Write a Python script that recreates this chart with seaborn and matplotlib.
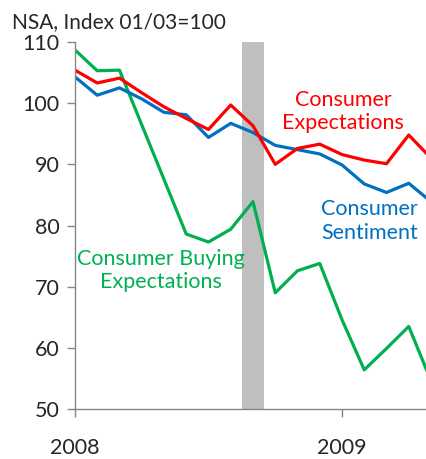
import pandas as pd
import seaborn as sns
import matplotlib.pyplot as plt

# Data (bulan sejak Jan 2008)
months = list(range(17))
expectations = [105.4, 103.3, 104.1, 101.7, 99.4, 97.5, 95.7, 99.7, 96.3, 90.0,
                92.6, 93.3, 91.6, 90.7, 90.1, 94.8, 91.0]
sentiment = [104.3, 101.3, 102.5, 100.7, 98.5, 98.1, 94.4, 96.7, 95.2, 93.1,
             92.4, 91.7, 89.9, 86.8, 85.4, 86.9, 83.9]
buying_months = [0, 1, 2, 5, 6, 7, 8, 9, 10, 11, 12, 13, 14, 15, 16]
buying = [108.7, 105.3, 105.4, 78.6, 77.3, 79.4, 83.9, 69.0, 72.6, 73.8,
          64.6, 56.4, 59.9, 63.5, 54.6]
year_ticks = [0, 12]
year_labels = ['2008', '2009']
recession_band = (7.5, 8.5)

df_exp = pd.DataFrame({'bulan': months, 'nilai': expectations})
df_sen = pd.DataFrame({'bulan': months, 'nilai': sentiment})
df_buy = pd.DataFrame({'bulan': buying_months, 'nilai': buying})

sns.set_style('white')
plt.rcParams['font.family'] = ['Lato', 'DejaVu Sans']

red = '#FF0000'
blue = '#0070C0'
green = '#00B050'

fig = plt.figure(figsize=(4.27, 4.59), dpi=100)
ax = fig.add_axes([0.1756, 0.1089, 0.8244, 0.7996])

ax.axvspan(*recession_band, color='#BFBFBF', lw=0, zorder=0)
sns.lineplot(data=df_buy, x='bulan', y='nilai', color=green, lw=2.3, ax=ax)
sns.lineplot(data=df_sen, x='bulan', y='nilai', color=blue, lw=2.3, ax=ax)
sns.lineplot(data=df_exp, x='bulan', y='nilai', color=red, lw=2.3, ax=ax)

ax.set_xlim(0, 15.82)
ax.set_ylim(50, 110)
ax.set_yticks([50, 60, 70, 80, 90, 100, 110])
ax.set_xticks(year_ticks)
ax.set_xticklabels(year_labels)
ax.set_xlabel('')
ax.set_ylabel('')
ax.tick_params(axis='y', direction='out', length=6, width=1, color='#868686',
               labelsize=15.5, pad=5, left=True)
ax.tick_params(axis='x', direction='out', length=6, width=1, color='#868686',
               labelsize=15.5, pad=15, bottom=True)

for side in ['top', 'right']:
    ax.spines[side].set_visible(False)
for side in ['left', 'bottom']:
    ax.spines[side].set_color('#868686')
    ax.spines[side].set_linewidth(1)

fig.text(0.028, 0.951, 'NSA, Index 01/03=100', fontsize=15, ha='left', va='center')

ax.text(12.05, 98.7, 'Consumer\nExpectations', color=red, fontsize=15.5,
        ha='center', va='center', linespacing=1.2)
ax.text(13.25, 80.75, 'Consumer\nSentiment', color=blue, fontsize=15.5,
        ha='center', va='center', linespacing=1.2)
ax.text(3.85, 72.6, 'Consumer Buying\nExpectations', color=green, fontsize=15.5,
        ha='center', va='center', linespacing=1.2)

plt.savefig('out.png', dpi=100)
